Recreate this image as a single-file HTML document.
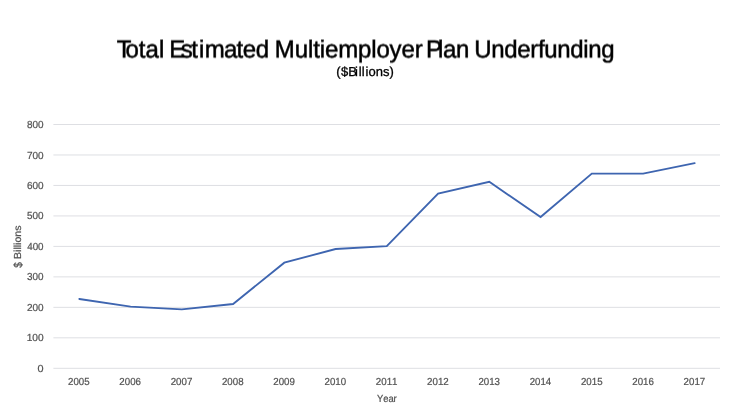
<!DOCTYPE html><html><head><meta charset="utf-8"><title>Total Estimated Multiemployer Plan Underfunding</title>
<style>html,body{margin:0;padding:0;background:#fff;}body{width:756px;height:420px;overflow:hidden;}svg{display:block;}text{font-family:"Liberation Sans",sans-serif;font-kerning:none;text-rendering:geometricPrecision;}</style></head><body>
<svg width="756" height="420" viewBox="0 0 756 420">
<rect width="756" height="420" fill="#fff"/>
<defs><filter id="hs" filterUnits="userSpaceOnUse" x="100" y="-30" width="540" height="50" color-interpolation-filters="sRGB"><feConvolveMatrix order="1 2" kernelMatrix="0.5 0.5" targetY="1" preserveAlpha="false"/></filter></defs>
<g stroke="#000" stroke-width="0.5" transform="translate(0,57) scale(1,1.025)" filter="url(#hs)">
<text x="116.73" y="0" font-size="24" fill="#000" dx="0 -5.9 0 0 0">Total</text>
<text x="169.33" y="0" font-size="24" fill="#000" dx="0 -4.6 -1.5 1.1 0.4 -0.7 -1.0 -0.35 -0.3">Estimated</text>
<text x="274.80" y="0" font-size="24" fill="#000" dx="0 0 -0.15 -0.15 -0.15 -0.15 -0.15 -0.15 -0.15 -0.15 -0.15 -0.15 -0.15">Multiemployer</text>
<text x="425.99" y="0" font-size="24" fill="#000" dx="0 -4.1 -0.3 -0.4">Plan</text>
<text x="474.33" y="0" font-size="24" fill="#000" dx="0 -0.37 -0.37 -0.37 -0.37 -0.37 -0.37 -0.37 -0.37 -0.37 -0.37 -0.37">Underfunding</text>
</g><g stroke="#000" stroke-width="0.3" transform="translate(0,76)">
<text x="336.29" y="0" font-size="13" fill="#000" dx="0 0.4 0 -2 1 0 1 0 0 0 0">($Billions)</text>
</g>
<line x1="53.4" x2="720" y1="368.30" y2="368.30" stroke="#dedfe3" stroke-width="1"/>
<line x1="53.4" x2="720" y1="337.82" y2="337.82" stroke="#dedfe3" stroke-width="1"/>
<line x1="53.4" x2="720" y1="307.35" y2="307.35" stroke="#dedfe3" stroke-width="1"/>
<line x1="53.4" x2="720" y1="276.88" y2="276.88" stroke="#dedfe3" stroke-width="1"/>
<line x1="53.4" x2="720" y1="246.40" y2="246.40" stroke="#dedfe3" stroke-width="1"/>
<line x1="53.4" x2="720" y1="215.93" y2="215.93" stroke="#dedfe3" stroke-width="1"/>
<line x1="53.4" x2="720" y1="185.45" y2="185.45" stroke="#dedfe3" stroke-width="1"/>
<line x1="53.4" x2="720" y1="154.97" y2="154.97" stroke="#dedfe3" stroke-width="1"/>
<line x1="53.4" x2="720" y1="124.50" y2="124.50" stroke="#dedfe3" stroke-width="1"/>
<g stroke="#525252" stroke-width="0.22">
<text transform="translate(37.58,372) scale(1.0665,1)" font-size="10.2" fill="#525252">0</text>
<text transform="translate(26.63,341) scale(0.9973,1)" font-size="10.2" fill="#525252">100</text>
<text transform="translate(26.90,311) scale(0.9809,1)" font-size="10.2" fill="#525252">200</text>
<text transform="translate(27.02,280) scale(0.9734,1)" font-size="10.2" fill="#525252">300</text>
<text transform="translate(27.17,250) scale(0.9643,1)" font-size="10.2" fill="#525252">400</text>
<text transform="translate(27.00,219) scale(0.9746,1)" font-size="10.2" fill="#525252">500</text>
<text transform="translate(26.89,189) scale(0.9813,1)" font-size="10.2" fill="#525252">600</text>
<text transform="translate(26.89,159) scale(0.9816,1)" font-size="10.2" fill="#525252">700</text>
<text transform="translate(26.97,128) scale(0.9767,1)" font-size="10.2" fill="#525252">800</text>
<text transform="translate(68.06,385) scale(0.9517,1)" font-size="10.2" fill="#525252">2005</text>
<text transform="translate(119.35,385) scale(0.9526,1)" font-size="10.2" fill="#525252">2006</text>
<text transform="translate(170.64,385) scale(0.9555,1)" font-size="10.2" fill="#525252">2007</text>
<text transform="translate(221.94,385) scale(0.9524,1)" font-size="10.2" fill="#525252">2008</text>
<text transform="translate(273.23,385) scale(0.9541,1)" font-size="10.2" fill="#525252">2009</text>
<text transform="translate(324.52,385) scale(0.9504,1)" font-size="10.2" fill="#525252">2010</text>
<text transform="translate(375.81,385) scale(0.9548,1)" font-size="10.2" fill="#525252">2011</text>
<text transform="translate(427.10,385) scale(0.9555,1)" font-size="10.2" fill="#525252">2012</text>
<text transform="translate(478.39,385) scale(0.9526,1)" font-size="10.2" fill="#525252">2013</text>
<text transform="translate(529.69,385) scale(0.9461,1)" font-size="10.2" fill="#525252">2014</text>
<text transform="translate(580.98,385) scale(0.9517,1)" font-size="10.2" fill="#525252">2015</text>
<text transform="translate(632.27,385) scale(0.9526,1)" font-size="10.2" fill="#525252">2016</text>
<text transform="translate(683.56,385) scale(0.9555,1)" font-size="10.2" fill="#525252">2017</text>
</g>
<polyline fill="none" stroke="#3e65b0" stroke-width="1.85" stroke-linejoin="miter" stroke-linecap="round" points="79.3,299 130.6,306.7 181.8,309.3 233.1,304 284.3,262.7 335.6,249 386.8,246.2 438.1,193.7 489.3,181.8 540.6,217 591.8,173.6 643.1,173.6 694.7,163.2"/>
<g stroke="#525252" stroke-width="0.22">
<text transform="translate(376.89,401.5) scale(0.9219,1)" font-size="10.2" fill="#525252">Year</text>
<text transform="translate(21.2,259.03) rotate(-90) scale(1.0383,1)" font-size="10.2" fill="#525252">Billions</text>
<text transform="translate(21.5,267.7) rotate(-90) scale(0.86,1)" font-size="11.7" fill="#525252">$</text>
</g>
</svg></body></html>
